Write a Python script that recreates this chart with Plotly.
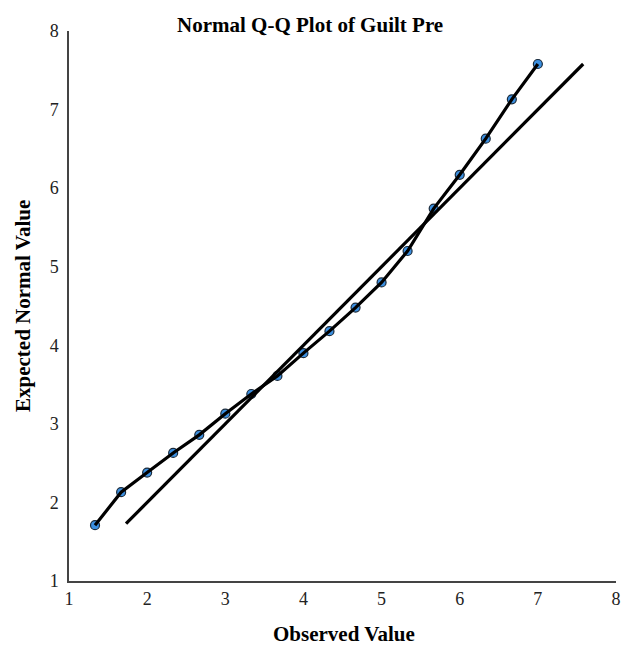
import plotly.graph_objects as go

observed = [1.333, 1.667, 2.0, 2.333, 2.667, 3.0, 3.333, 3.667, 4.0,
            4.333, 4.667, 5.0, 5.333, 5.667, 6.0, 6.333, 6.667, 7.0]
expected = [1.71, 2.13, 2.38, 2.63, 2.86, 3.13, 3.38, 3.61, 3.90,
            4.18, 4.48, 4.80, 5.20, 5.74, 6.17, 6.63, 7.13, 7.58]
ref_line = [1.73, 7.58]
tick_vals = [1, 2, 3, 4, 5, 6, 7, 8]

SERIF = "Liberation Serif, Times New Roman, serif"

fig = go.Figure()
fig.add_trace(go.Scatter(
    x=observed, y=expected, mode="markers",
    marker=dict(size=9, color="#3b8fe0", line=dict(color="#1a2a3a", width=1.2)),
    showlegend=False, hoverinfo="skip"))
fig.add_trace(go.Scatter(
    x=observed, y=expected, mode="lines",
    line=dict(color="black", width=3.2), showlegend=False))
fig.add_trace(go.Scatter(
    x=ref_line, y=ref_line, mode="lines",
    line=dict(color="black", width=3.2), showlegend=False))

axis_common = dict(
    range=[1, 8], tickvals=tick_vals, showgrid=False, zeroline=False,
    showline=True, linecolor="#444", linewidth=1.5,
    ticks="outside", tickcolor="rgba(0,0,0,0)",
    tickfont=dict(family=SERIF, size=18, color="#222"),
    automargin=False,
)

fig.update_layout(
    width=622, height=650,
    margin=dict(l=69, r=6, t=31, b=69),
    plot_bgcolor="white", paper_bgcolor="white",
    xaxis=dict(**axis_common, ticklen=1),
    yaxis=dict(**axis_common, ticklen=5),
    annotations=[
        dict(text="<b>Normal Q-Q Plot of Guilt Pre</b>",
             x=(310 - 69) / 547, y=1 + (31 - 25) / 550,
             xref="paper", yref="paper", showarrow=False, yanchor="middle",
             font=dict(family=SERIF, size=21, color="black")),
        dict(text="<b>Observed Value</b>", x=(344 - 69) / 547, y=-(634 - 581) / 550,
             xref="paper", yref="paper", showarrow=False, yanchor="middle",
             font=dict(family=SERIF, size=21, color="black")),
        dict(text="<b>Expected Normal Value</b>", x=-(69 - 23) / 547, y=0.5,
             xref="paper", yref="paper", showarrow=False, textangle=-90,
             xanchor="center", yanchor="middle",
             font=dict(family=SERIF, size=21, color="black")),
    ],
)
fig.write_html("out.html")
